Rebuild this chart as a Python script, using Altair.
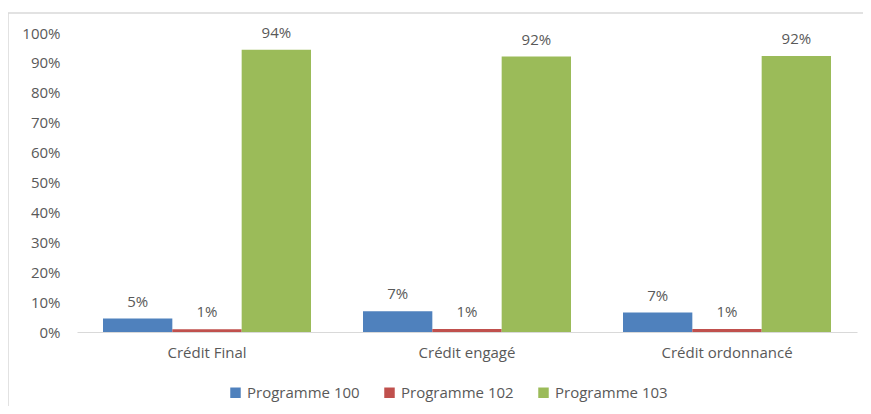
import altair as alt
import pandas as pd

categories = ["Crédit Final", "Crédit engagé", "Crédit ordonnancé"]
series = ["Programme 100", "Programme 102", "Programme 103"]
prog100 = [0.045, 0.069, 0.065]
prog102 = [0.009, 0.010, 0.010]
prog103 = [0.944, 0.921, 0.923]
colors = ["#4F81BD", "#C0504D", "#9BBB59"]

rows = []
for s, vals in zip(series, [prog100, prog102, prog103]):
    for c, v in zip(categories, vals):
        rows.append({"cat": c, "serie": s, "val": v})
df = pd.DataFrame(rows)

FONT = "Open Sans"
GRAY = "#595959"
FS = 15

x = alt.X("cat:N", sort=categories, title=None,
          scale=alt.Scale(paddingInner=0.2, paddingOuter=0.1),
          axis=alt.Axis(labelAngle=0, labelPadding=13, labelFontSize=FS, labelColor=GRAY,
                        labelFont=FONT, ticks=False, domainColor="#D9D9D9", domainWidth=1))
xo = alt.XOffset("serie:N", sort=series, scale=alt.Scale(paddingInner=0, paddingOuter=0))
y = alt.Y("val:Q", title=None,
          scale=alt.Scale(domain=[0, 1], nice=False),
          axis=alt.Axis(values=[i / 10 for i in range(11)], format=".0%", grid=False,
                        domain=False, ticks=False, labelPadding=17, labelFontSize=FS,
                        labelColor=GRAY, labelFont=FONT))
color = alt.Color("serie:N", sort=series, title=None,
                  scale=alt.Scale(domain=series, range=colors),
                  legend=alt.Legend(orient="none", legendX=151, legendY=352, direction="horizontal",
                                    symbolType="square", symbolSize=110, symbolStrokeWidth=0,
                                    labelFontSize=FS, labelColor=GRAY, labelFont=FONT,
                                    columnPadding=22, labelOffset=4))

base = alt.Chart(df)
bars = base.mark_bar().encode(x=x, xOffset=xo, y=y, color=color)
labels = base.mark_text(dy=-9, fontSize=FS, color=GRAY, font=FONT, baseline="bottom").encode(
    x=x, xOffset=xo, y=y, text=alt.Text("val:Q", format=".0%"))

frame_top = alt.Chart(pd.DataFrame({"k": [0]})).mark_rule(color="#D9D9D9", strokeWidth=1.5).encode(
    x=alt.value(-69), x2=alt.value(786), y=alt.value(-20))
frame_left = alt.Chart(pd.DataFrame({"k": [0]})).mark_rule(color="#D9D9D9", strokeWidth=1.5).encode(
    x=alt.value(-69), y=alt.value(-20), y2=alt.value(400))

chart = alt.layer(frame_top, frame_left, bars, labels).properties(
    width=780, height=299,
    autosize=alt.AutoSizeParams(type="none"),
    padding={"left": 69, "top": 25, "right": 6, "bottom": 74},
    background="white",
).configure_view(stroke=None)

chart.save("out.html", embed_options={"renderer": "svg", "actions": False})
